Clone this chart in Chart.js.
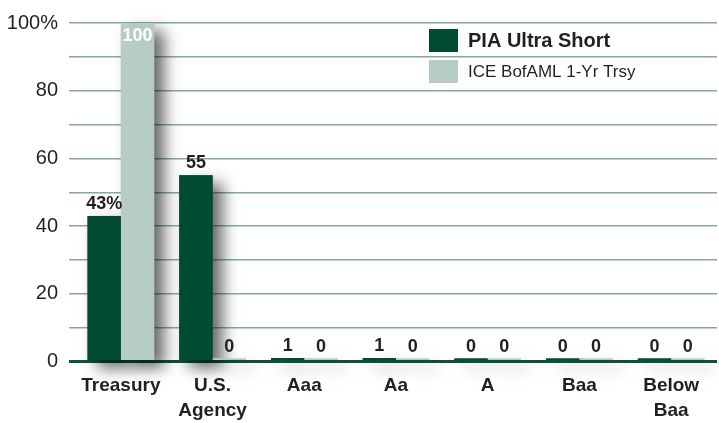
<!DOCTYPE html>
<html lang="en">
<head>
    <meta charset="UTF-8">
    <title>Credit Quality - PIA Ultra Short</title>
    <script src="https://cdn.jsdelivr.net/npm/chart.js"></script>
    <style>
        html, body { margin: 0; padding: 0; background: #fff; }
        #wrap { width: 719px; height: 423px; position: relative; }
    </style>
</head>
<body>
    <div id="wrap">
        <canvas id="qualityChart"></canvas>
    </div>

    <script>
        // Chart data
        const categories = [['Treasury'], ['U.S.', 'Agency'], 'Aaa', 'Aa', 'A', 'Baa', ['Below', 'Baa']];
        const seriesNames = ['PIA Ultra Short', 'ICE BofAML 1-Yr Trsy'];
        const piaValues = [43, 55, 1, 1, 0, 0, 0];
        const iceValues = [100, 0, 0, 0, 0, 0, 0];
        const yTickLabels = { 0: '0', 20: '20', 40: '40', 60: '60', 80: '80', 100: '100%' };

        const DARK = '#014a33';
        const LIGHT = '#b8ccc6';
        const GRID = '#86a99b';
        const TEXT = '#231f20';
        const FONT = '"Liberation Sans", Arial, sans-serif';

        // Drop shadows under the bars (drawn before any bar so they sit behind both series)
        const barShadows = {
            id: 'barShadows',
            beforeDatasetsDraw(chart) {
                const ctx = chart.ctx;
                ctx.save();
                ctx.shadowColor = 'rgba(0, 0, 0, 0.6)';
                ctx.shadowBlur = 16;
                ctx.shadowOffsetX = 10;
                ctx.shadowOffsetY = 8;
                chart.data.datasets.forEach((ds, i) => {
                    chart.getDatasetMeta(i).data.forEach(bar => {
                        const top = Math.min(bar.y, bar.base);
                        const h = Math.abs(bar.base - bar.y);
                        ctx.fillStyle = ds.backgroundColor;
                        ctx.fillRect(bar.x - bar.width / 2, top, bar.width, h);
                    });
                });
                ctx.restore();
            }
        };

        // Value labels over each bar
        const valueLabels = {
            id: 'valueLabels',
            afterDatasetsDraw(chart) {
                const ctx = chart.ctx;
                const area = chart.chartArea;
                ctx.save();
                ctx.font = 'bold 18px ' + FONT;
                ctx.textAlign = 'center';
                chart.data.datasets.forEach((ds, i) => {
                    chart.getDatasetMeta(i).data.forEach((bar, j) => {
                        const v = ds.data[j];
                        const text = (i === 0 && j === 0) ? v + '%' : String(v);
                        if (bar.y - 22 < area.top) {
                            ctx.fillStyle = '#ffffff';
                            ctx.textBaseline = 'top';
                            ctx.fillText(text, bar.x, bar.y + 4);
                        } else {
                            ctx.fillStyle = TEXT;
                            ctx.textBaseline = 'alphabetic';
                            ctx.fillText(text, bar.x, bar.y - 7);
                        }
                    });
                });
                ctx.restore();
            }
        };

        // Legend inside the plot, top right
        const boxLegend = {
            id: 'boxLegend',
            afterDraw(chart) {
                const ctx = chart.ctx;
                ctx.save();
                chart.data.datasets.forEach((ds, i) => {
                    const y = 29 + i * 31;
                    ctx.fillStyle = ds.backgroundColor;
                    ctx.fillRect(429, y, 29, 23);
                    ctx.fillStyle = TEXT;
                    ctx.textBaseline = 'middle';
                    ctx.textAlign = 'left';
                    ctx.font = (i === 0 ? 'bold 20px ' : '17px ') + FONT;
                    ctx.fillText(ds.label, 468, y + 12);
                });
                ctx.restore();
            }
        };

        const ctx = document.getElementById('qualityChart').getContext('2d');
        new Chart(ctx, {
            type: 'bar',
            data: {
                labels: categories,
                datasets: [
                    {
                        label: seriesNames[0],
                        data: piaValues,
                        backgroundColor: DARK,
                        minBarLength: 3
                    },
                    {
                        label: seriesNames[1],
                        data: iceValues,
                        backgroundColor: LIGHT,
                        minBarLength: 3
                    }
                ]
            },
            options: {
                responsive: true,
                maintainAspectRatio: false,
                animation: false,
                categoryPercentage: 0.726,
                barPercentage: 1,
                layout: {
                    padding: { top: 19, right: 2, bottom: 0, left: 0 }
                },
                plugins: {
                    legend: { display: false },
                    tooltip: { enabled: false }
                },
                scales: {
                    x: {
                        grid: { display: false, drawTicks: false },
                        border: { display: false },
                        afterFit(scale) { scale.height = 61.5; },
                        ticks: {
                            color: TEXT,
                            padding: 12,
                            font: { family: FONT, size: 19, weight: 'bold', lineHeight: 1.3 },
                            maxRotation: 0
                        }
                    },
                    y: {
                        min: 0,
                        max: 100,
                        border: { display: false },
                        afterFit(scale) { scale.width = 75; },
                        grid: {
                            color: ctx => ctx.tick && ctx.tick.value === 0 ? '#0d5338' : GRID,
                            lineWidth: ctx => ctx.tick && ctx.tick.value === 0 ? 3 : 1.5,
                            tickLength: 6,
                            drawTicks: true
                        },
                        ticks: {
                            stepSize: 10,
                            padding: 11,
                            color: TEXT,
                            font: { family: FONT, size: 20 },
                            callback: v => (v in yTickLabels ? yTickLabels[v] : '')
                        }
                    }
                }
            },
            plugins: [barShadows, valueLabels, boxLegend]
        });
    </script>
</body>
</html>
